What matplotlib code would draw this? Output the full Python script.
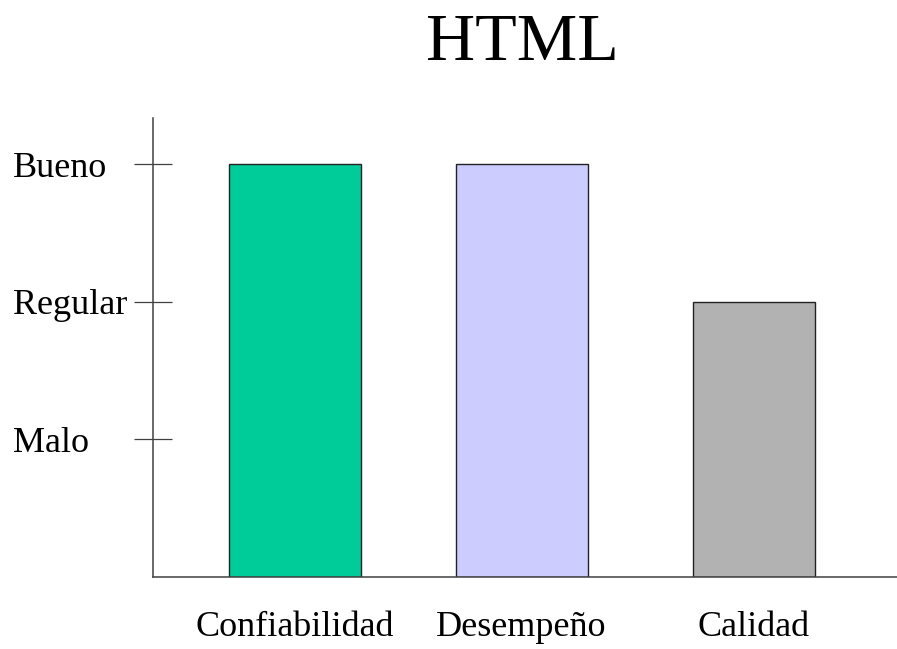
import matplotlib.pyplot as plt

TITLE = "HTML"
CATEGORIES = ["Confiabilidad", "Desempeño", "Calidad"]
SCORES = [3, 3, 2]
LEVELS = [1, 2, 3]
LEVEL_LABELS = ["Malo", "Regular", "Bueno"]
COLORS = ["#00CC99", "#CCCCFF", "#B2B2B2"]
WIDTHS = [0.575, 0.575, 0.53]
POSITIONS = [0, 0.987, 2]


def main():
    plt.rcParams['font.family'] = ['Liberation Serif', 'DejaVu Serif']
    fig = plt.figure(figsize=(8.97, 6.49), dpi=100)
    ax = fig.add_axes([0.1706, 0.1114, 0.8294, 0.7068])

    ax.bar(POSITIONS, SCORES, width=WIDTHS, color=COLORS,
           edgecolor="#222222", linewidth=1.0)

    ax.set_xlim(-0.619, 2.623)
    ax.set_ylim(0, 3.336)

    for s in ["top", "right"]:
        ax.spines[s].set_visible(False)
    for s in ["left", "bottom"]:
        ax.spines[s].set_color("#404040")
        ax.spines[s].set_linewidth(1.1)

    ax.set_yticks(LEVELS)
    ax.set_yticklabels(LEVEL_LABELS, fontsize=26, ha="left")
    ax.tick_params(axis="y", direction="inout", length=27.4, width=0.9,
                   color="#404040", pad=87.1)

    ax.set_xticks(POSITIONS)
    ax.set_xticklabels(CATEGORIES, fontsize=26)
    ax.tick_params(axis="x", length=0, pad=25)

    fig.text(522 / 897, 1 - 60 / 649, TITLE, fontsize=49,
             ha="center", va="baseline")

    fig.savefig("out.png", dpi=100)


if __name__ == "__main__":
    main()
